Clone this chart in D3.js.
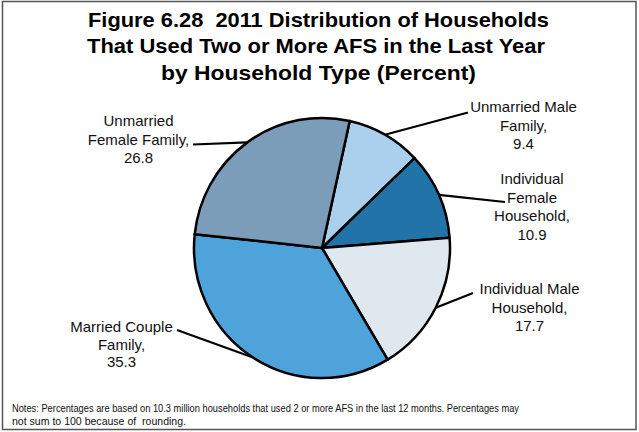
<!DOCTYPE html>
<html>
<head>
<meta charset="utf-8">
<script src="https://cdn.jsdelivr.net/npm/d3@7/dist/d3.min.js"></script>
<style>
html,body{margin:0;padding:0;background:#fff;}
svg{display:block;font-family:"Liberation Sans",Arial,sans-serif;}
</style>
</head>
<body>
<svg id="chart" width="639" height="432"></svg>
<script>
// ---- data ----
const categories = ["Unmarried Male Family", "Individual Female Household", "Individual Male Household", "Married Couple Family", "Unmarried Female Family"];
const values = [9.4, 10.9, 17.7, 35.3, 26.8];
const colors = ["#aad0ee", "#2173a8", "#dfe7ef", "#4ea3db", "#7b9dba"];
const labelLines = [
  ["Unmarried Male", "Family,", "9.4"],
  ["Individual", "Female", "Household,", "10.9"],
  ["Individual Male", "Household,", "17.7"],
  ["Married Couple", "Family,", "35.3"],
  ["Unmarried", "Female Family,", "26.8"]
];
const titleLines = ["Figure 6.28\u00a0 2011 Distribution of Households", "That Used Two or More AFS in the Last Year", "by Household Type (Percent)"];
const notesLines = ["Notes: Percentages are based on 10.3 million households that used 2 or more AFS in the last 12 months. Percentages may", "not sum to 100 because of\u00a0 rounding."];

// ---- layout ----
const svg = d3.select("#chart");
svg.append("rect").attr("x", 2.5).attr("y", 1.5).attr("width", 633.5).attr("height", 428)
  .attr("fill", "#fff").attr("stroke", "#555").attr("stroke-width", 1.5);

const titleCfg = [{x: 318.5, y: 27, w: 461}, {x: 316, y: 53, w: 458}, {x: 318.5, y: 80, w: 315}];
svg.selectAll("text.title").data(titleLines).join("text").attr("class", "title")
  .attr("x", (d, i) => titleCfg[i].x).attr("y", (d, i) => titleCfg[i].y)
  .attr("text-anchor", "middle").attr("font-size", 21).attr("font-weight", "bold").attr("fill", "#000")
  .attr("textLength", (d, i) => titleCfg[i].w).attr("lengthAdjust", "spacingAndGlyphs")
  .text(d => d);

const cx = 322, cy = 248, R = 128, sy = 1.016;
const start = 12.5 * Math.PI / 180;
const pie = d3.pie().sort(null).startAngle(start).endAngle(start + 2 * Math.PI);
const arcs = pie(values);
const arc = d3.arc().innerRadius(0).outerRadius(R);

const g = svg.append("g").attr("transform", `translate(${cx},${cy}) scale(1,${sy})`);
g.selectAll("path").data(arcs).join("path")
  .attr("d", arc).attr("fill", (d, i) => colors[i])
  .attr("stroke", "#000").attr("stroke-width", 2.5).attr("stroke-linejoin", "round");

// label layout
const labelCfg = [
  {x: 523.5, y: 112, lh: 18.5, end: [468, 112.5]},
  {x: 532, y: 184, lh: 18.5, end: [505, 202]},
  {x: 529.5, y: 294, lh: 18.5, end: [473, 293]},
  {x: 121.5, y: 332, lh: 17.5, end: [177, 330]},
  {x: 138.5, y: 126, lh: 18.5, end: [193, 144.5]}
];

arcs.forEach((a, i) => {
  const mid = (a.startAngle + a.endAngle) / 2;
  const px = cx + R * Math.sin(mid), py = cy - R * sy * Math.cos(mid);
  const c = labelCfg[i];
  svg.append("line").attr("x1", px).attr("y1", py).attr("x2", c.end[0]).attr("y2", c.end[1])
    .attr("stroke", "#000").attr("stroke-width", 2.2);
  const t = svg.append("text").attr("text-anchor", "middle").attr("font-size", 15).attr("fill", "#111");
  labelLines[i].forEach((line, j) => {
    t.append("tspan").attr("x", c.x).attr("y", c.y + j * c.lh).text(line);
  });
});

const notesCfg = [{y: 412, w: 507}, {y: 425, w: 174}];
svg.selectAll("text.note").data(notesLines).join("text").attr("class", "note")
  .attr("x", 12).attr("y", (d, i) => notesCfg[i].y)
  .attr("font-size", 10).attr("fill", "#111")
  .attr("textLength", (d, i) => notesCfg[i].w).attr("lengthAdjust", "spacingAndGlyphs")
  .text(d => d);
</script>
</body>
</html>
